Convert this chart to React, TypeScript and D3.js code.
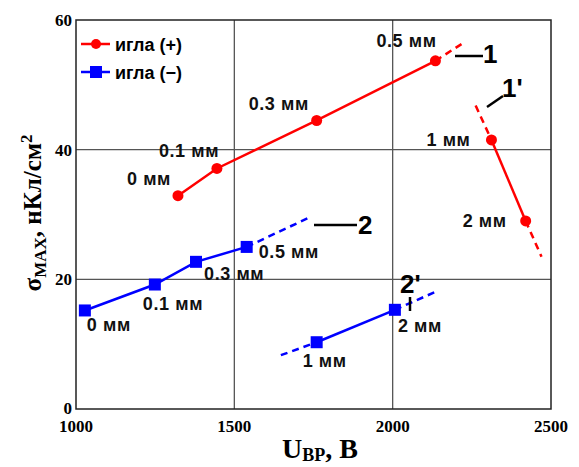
import React from "react";
import * as d3 from "d3";

// игла (+), участок 1
const posV = [1322, 1445, 1760, 2135];
const posS = [32.9, 37.1, 44.5, 53.7];
const posLbl = ["0 мм", "0.1 мм", "0.3 мм", "0.5 мм"];
// игла (+), участок 1'
const pos2V = [2312, 2420];
const pos2S = [41.5, 29.0];
const pos2Lbl = ["1 мм", "2 мм"];
// игла (−), участок 2
const negV = [1028, 1249, 1379, 1539];
const negS = [15.2, 19.2, 22.7, 25.0];
const negLbl = ["0 мм", "0.1 мм", "0.3 мм", "0.5 мм"];
// игла (−), участок 2'
const neg2V = [1760, 2007];
const neg2S = [10.3, 15.3];
const neg2Lbl = ["1 мм", "2 мм"];

// пунктирные продолжения
const dashPos = [[2135, 53.7, 2221, 56.4]];
const dashPos2 = [[2262, 46.8, 2312, 41.5], [2420, 29.0, 2470, 23.5]];
const dashNeg = [[1539, 25.0, 1735, 29.5]];
const dashNeg2 = [[1647, 8.3, 1760, 10.3], [2007, 15.3, 2132, 18.0]];

const xTicks = [1000, 1500, 2000, 2500];
const yTicks = [0, 20, 40, 60];

const W = 579, H = 467;
const x = d3.scaleLinear().domain([1000, 2500]).range([76, 551]);
const y = d3.scaleLinear().domain([0, 60]).range([409, 20]);

const RED = "#ff0000";
const BLUE = "#0000ff";
const SANS = "Arial, 'Liberation Sans', sans-serif";
const SERIF = "'Times New Roman', 'Liberation Serif', serif";

const line = d3.line<[number, number]>().x((d) => x(d[0])).y((d) => y(d[1]));

function pts(v: number[], s: number[]): [number, number][] {
  return v.map((d, i) => [d, s[i]]);
}

// смещения подписей (пиксели)
const posOff = [[-51, -11], [-58, -11], [-68, -10], [-59, -14]];
const pos2Off = [[-65, 6], [-63, 6]];
const negOff = [[2, 21], [-12, 25], [8, 18], [12, 11]];
const neg2Off = [[-14, 25], [3, 22]];

export default function App() {
  const series = [
    { v: posV, s: posS, lbl: posLbl, off: posOff, c: RED, sq: false },
    { v: pos2V, s: pos2S, lbl: pos2Lbl, off: pos2Off, c: RED, sq: false },
    { v: negV, s: negS, lbl: negLbl, off: negOff, c: BLUE, sq: true },
    { v: neg2V, s: neg2S, lbl: neg2Lbl, off: neg2Off, c: BLUE, sq: true },
  ];
  const dashes = [
    ...dashPos.map((d) => ({ d, c: RED })),
    ...dashPos2.map((d) => ({ d, c: RED })),
    ...dashNeg.map((d) => ({ d, c: BLUE })),
    ...dashNeg2.map((d) => ({ d, c: BLUE })),
  ];
  return (
    <svg width={W} height={H} style={{ position: "absolute", left: 0, top: 0, background: "#fff" }}>
      {/* сетка */}
      {xTicks.slice(1, -1).map((t) => (
        <line key={"gx" + t} x1={x(t)} x2={x(t)} y1={y(0)} y2={y(60)} stroke="#555" strokeWidth={1.3} />
      ))}
      {yTicks.slice(1, -1).map((t) => (
        <line key={"gy" + t} x1={x(1000)} x2={x(2500)} y1={y(t)} y2={y(t)} stroke="#555" strokeWidth={1.3} />
      ))}
      <rect x={x(1000)} y={y(60)} width={x(2500) - x(1000)} height={y(0) - y(60)} fill="none" stroke="#222" strokeWidth={1.5} />

      {/* подписи осей */}
      {xTicks.map((t) => (
        <text key={"tx" + t} x={x(t)} y={y(0) + 23} textAnchor="middle" fontFamily={SERIF} fontWeight="bold" fontSize={17}>
          {t}
        </text>
      ))}
      {yTicks.map((t) => (
        <text key={"ty" + t} x={x(1000) - 4} y={y(t) + (t === 0 ? 5 : 6)} textAnchor="end" fontFamily={SERIF} fontWeight="bold" fontSize={17}>
          {t}
        </text>
      ))}
      <text x={320} y={458} textAnchor="middle" fontFamily={SERIF} fontWeight="bold" fontSize={28}>
        U<tspan fontSize={18} dy={3}>BP</tspan><tspan dy={-3}>, B</tspan>
      </text>
      <text transform={`translate(41,${213}) rotate(-90)`} textAnchor="middle" fontFamily={SERIF} fontWeight="bold" fontSize={25}>
        σ<tspan fontSize={17} dy={5}>MAX</tspan><tspan dy={-5}>, нКл/см</tspan><tspan fontSize={17} dy={-9}>2</tspan>
      </text>

      {/* пунктир */}
      {dashes.map((o, i) => (
        <line key={"d" + i} x1={x(o.d[0])} y1={y(o.d[1])} x2={x(o.d[2])} y2={y(o.d[3])} stroke={o.c} strokeWidth={2.5} strokeDasharray="7,5" />
      ))}

      {/* линии и точки */}
      {series.map((sr, k) => {
        const p = pts(sr.v, sr.s);
        return (
          <g key={"s" + k}>
            <path d={line(p) ?? ""} fill="none" stroke={sr.c} strokeWidth={2.5} />
            {p.map((d, i) =>
              sr.sq ? (
                <rect key={i} x={x(d[0]) - 6} y={y(d[1]) - 6} width={12} height={12} fill={sr.c} />
              ) : (
                <circle key={i} cx={x(d[0])} cy={y(d[1])} r={5.5} fill={sr.c} />
              )
            )}
            {p.map((d, i) => (
              <text key={"l" + i} x={x(d[0]) + sr.off[i][0]} y={y(d[1]) + sr.off[i][1]} fontFamily={SANS} fontWeight="bold" fontSize={18} letterSpacing={0.6} fill="#111">
                {sr.lbl[i]}
              </text>
            ))}
          </g>
        );
      })}

      {/* обозначения участков */}
      <line x1={455} x2={483} y1={56} y2={56} stroke="#000" strokeWidth={2.5} />
      <text x={483} y={63} fontFamily={SANS} fontWeight="bold" fontSize={26}>1</text>
      <line x1={487} x2={503} y1={107} y2={96} stroke="#000" strokeWidth={2.5} />
      <text x={502} y={97} fontFamily={SANS} fontWeight="bold" fontSize={26}>1'</text>
      <line x1={314} x2={357} y1={225} y2={225} stroke="#000" strokeWidth={2.5} />
      <text x={358} y={234} fontFamily={SANS} fontWeight="bold" fontSize={26}>2</text>
      <line x1={410} x2={410} y1={297} y2={311} stroke="#000" strokeWidth={2.5} />
      <text x={400} y={293} fontFamily={SANS} fontWeight="bold" fontSize={26}>2'</text>

      {/* легенда */}
      <line x1={81} x2={110} y1={44} y2={44} stroke={RED} strokeWidth={2.5} />
      <circle cx={96} cy={44} r={5} fill={RED} />
      <text x={115} y={51} fontFamily={SANS} fontWeight="bold" fontSize={18}>игла (+)</text>
      <line x1={81} x2={110} y1={72} y2={72} stroke={BLUE} strokeWidth={2.5} />
      <rect x={90} y={66} width={12} height={12} fill={BLUE} />
      <text x={115} y={79} fontFamily={SANS} fontWeight="bold" fontSize={18}>игла (−)</text>
    </svg>
  );
}
